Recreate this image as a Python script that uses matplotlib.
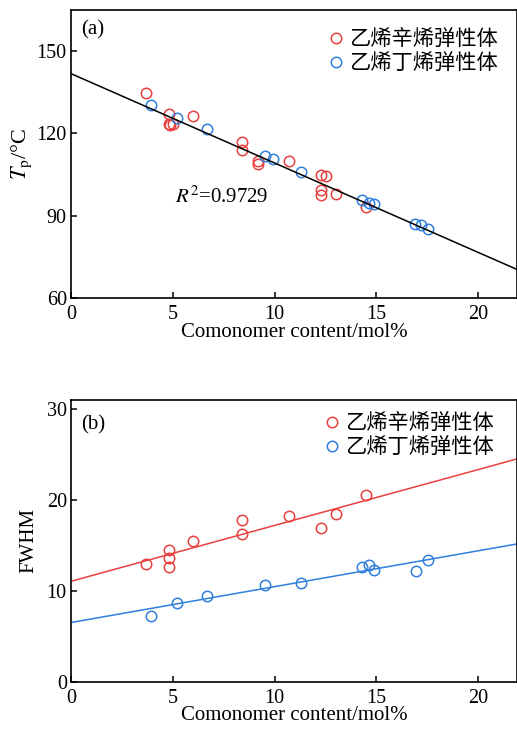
import matplotlib
matplotlib.use("Agg")
import matplotlib.pyplot as plt
import numpy as np

# ---- data ----
# (a) peak temperature Tp vs comonomer content
poe_x = [3.7, 4.8, 4.8, 4.85, 5.0, 6.0, 8.4, 8.4, 9.2, 9.2, 10.7, 12.3, 12.5, 12.3, 12.3, 13.0, 14.5]
poe_tp = [134.8, 127.2, 123.3, 122.9, 123.4, 126.3, 117.0, 114.0, 109.8, 108.8, 109.8, 105.0, 104.3, 99.5, 97.7, 98.0, 93.0]
pbe_x = [3.95, 5.2, 6.7, 9.55, 9.9, 11.3, 14.3, 14.65, 14.9, 16.9, 17.2, 17.55]
pbe_tp = [130.5, 125.5, 121.5, 111.6, 110.6, 105.9, 95.9, 94.6, 94.3, 87.1, 86.6, 85.1]
tp_fit = (-3.26, 141.8)   # slope, intercept
r2_label = "0.9729"

# (b) FWHM vs comonomer content
poe_fx = [3.7, 4.8, 4.8, 4.8, 6.0, 8.4, 8.4, 10.7, 12.3, 13.0, 14.5]
poe_fwhm = [13.0, 14.45, 13.57, 12.66, 15.48, 17.78, 16.28, 18.26, 16.87, 18.48, 20.56]
pbe_fx = [3.95, 5.2, 6.7, 9.55, 11.3, 14.3, 14.65, 14.9, 16.95, 17.55]
pbe_fwhm = [7.28, 8.71, 9.40, 10.68, 10.90, 12.66, 12.81, 12.26, 12.18, 13.39]
poe_fit = (0.615, 11.05)
pbe_fit = (0.395, 6.51)

labels = ["乙烯辛烯弹性体", "乙烯丁烯弹性体"]
red, blue = "#e8413f", "#2f7fdc"

plt.rcParams["font.family"] = ["Liberation Serif", "Noto Sans CJK SC"]
plt.rcParams["mathtext.fontset"] = "stix"
plt.rcParams["font.size"] = 14.5

fig = plt.figure(figsize=(5.17, 7.30), dpi=100)
ax1 = fig.add_axes([0.1373, 0.5918, 0.8627, 0.3945])
ax2 = fig.add_axes([0.1373, 0.0662, 0.8627, 0.3858])

xline = np.array([0, 22])
mk = dict(ls="none", marker="o", mfc="none", ms=7.5, mew=1.1)

ax1.plot(poe_x, poe_tp, color=red, label=labels[0], **mk)
ax1.plot(pbe_x, pbe_tp, color=blue, label=labels[1], **mk)
ax1.plot(xline, tp_fit[0] * xline + tp_fit[1], color="black", lw=1.1)
ax1.text(5.1, 96.8, r"$\mathit{R}^2$=" + r2_label, va="center", fontsize=15)
ax1.set_ylim(60, 165)
ax1.set_yticks([60, 90, 120, 150])
ax1.set_ylabel(r"$\mathit{T}_\mathrm{p}$/°C", labelpad=2, fontsize=16)
ax1.text(0.022, 0.965, "(a)", transform=ax1.transAxes, va="top", fontsize=15)

ax2.plot(poe_fx, poe_fwhm, color=red, label=labels[0], **mk)
ax2.plot(pbe_fx, pbe_fwhm, color=blue, label=labels[1], **mk)
ax2.plot(xline, poe_fit[0] * xline + poe_fit[1], color=red, lw=1.1)
ax2.plot(xline, pbe_fit[0] * xline + pbe_fit[1], color=blue, lw=1.1)
ax2.set_ylim(0, 31)
ax2.set_yticks([0, 10, 20, 30])
ax2.set_ylabel("FWHM", labelpad=6, fontsize=15)
ax2.text(0.022, 0.945, "(b)", transform=ax2.transAxes, va="top", fontsize=15)

for ax, anchor in ((ax1, (0.957, 0.936)), (ax2, (0.948, 0.956))):
    ax.set_xlim(0, 21.9)
    ax.set_xticks([0, 5, 10, 15, 20])
    ax.set_xlabel("Comonomer content/mol%", labelpad=-1, fontsize=15)
    ax.tick_params(direction="in", length=4, width=1.1, pad=3)
    ax.tick_params(axis="x", pad=5)
    for s in ax.spines.values():
        s.set_linewidth(1.2)
    ax.legend(loc="upper right", bbox_to_anchor=anchor, frameon=False, borderaxespad=0,
              borderpad=0, handletextpad=0.15, labelspacing=0.1, handlelength=0.9,
              prop={"family": "Noto Sans CJK SC", "size": 15.3})

fig.savefig("out.png", dpi=100)
